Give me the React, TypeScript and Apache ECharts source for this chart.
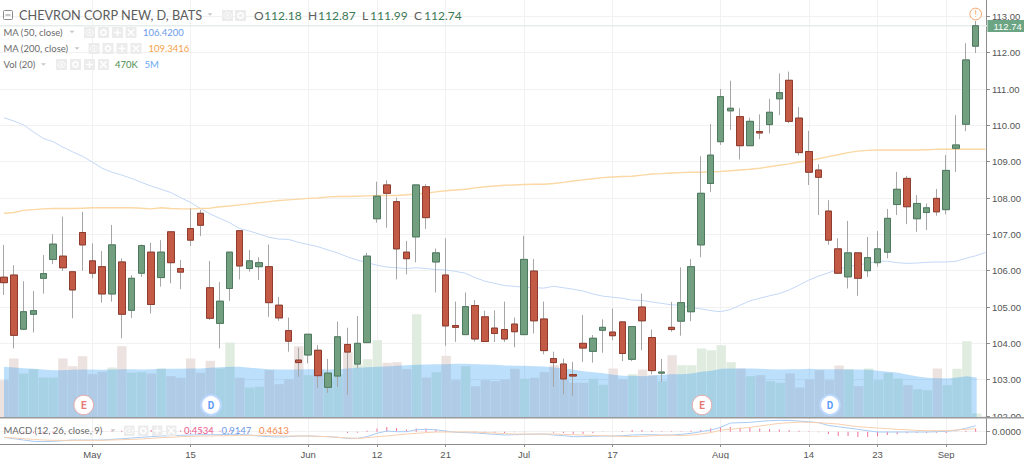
import React, { useEffect, useRef } from "react";
import * as echarts from "echarts";

const opens = [105.82,105.88,104.39,104.80,105.79,106.31,106.40,105.97,107.05,106.27,106.11,105.36,106.24,104.91,105.93,106.51,105.81,107.07,106.06,107.16,107.58,105.53,104.55,105.51,107.10,106.06,106.11,106.11,105.05,104.35,103.54,103.68,103.81,102.79,103.10,103.97,103.43,104.02,107.43,108.36,107.90,106.51,106.93,108.31,106.24,105.88,104.49,104.24,105.04,104.73,104.42,104.38,104.53,104.24,105.99,104.67,103.58,103.43,103.14,104.00,103.78,104.36,104.31,104.59,103.56,105.00,104.16,103.18,104.44,104.61,104.87,106.71,108.40,109.55,110.40,110.24,109.44,109.83,110.02,110.73,111.24,110.20,109.28,108.77,107.64,106.60,105.83,106.49,106.00,106.22,106.51,107.82,108.54,107.43,107.60,107.99,107.68,109.37,110.03,112.18];
const closes = [105.67,104.22,104.87,104.90,105.92,106.73,106.08,105.47,106.71,105.93,105.36,106.71,104.80,105.79,106.69,105.07,106.51,106.22,105.96,106.84,107.25,104.69,105.16,106.51,106.13,106.27,106.22,105.12,104.70,104.06,103.47,104.25,103.11,103.18,104.18,103.76,104.00,106.40,108.05,108.13,106.60,106.33,108.36,107.46,106.49,104.48,104.44,105.01,104.12,104.05,104.27,104.12,104.32,106.31,104.62,103.80,103.47,103.02,103.10,103.87,104.14,104.44,104.21,103.72,104.46,104.62,103.25,103.21,104.38,105.12,106.11,108.13,109.18,110.79,110.47,109.44,110.11,109.79,110.36,110.90,110.11,109.25,108.71,108.57,106.84,105.93,106.49,105.79,106.36,106.60,107.44,108.24,107.76,107.85,107.73,107.62,108.76,109.46,111.80,112.74];
const highs = [106.71,106.15,105.71,105.44,106.43,107.00,107.49,105.97,107.62,106.75,106.54,107.26,106.34,105.88,106.72,106.77,106.84,107.07,106.29,107.71,107.67,106.27,105.69,106.51,107.10,106.57,106.37,106.72,105.28,104.71,103.88,104.25,103.95,103.57,104.60,104.43,104.75,106.49,108.45,108.49,108.01,106.82,108.36,108.38,106.61,106.89,105.15,105.40,105.19,104.90,104.91,105.15,104.71,106.96,106.32,105.15,103.77,103.58,103.49,104.78,104.23,104.66,104.96,104.59,104.48,105.37,104.38,103.57,105.14,106.09,106.32,109.15,110.04,111.00,111.23,110.47,110.21,110.30,110.73,111.43,111.48,110.50,109.85,108.93,107.94,106.89,107.37,106.49,106.93,107.09,107.70,108.72,108.61,108.08,107.85,108.25,109.18,110.28,112.26,112.87];
const lows = [105.33,103.86,104.36,104.30,105.37,106.18,105.99,104.69,106.00,105.79,105.12,105.15,104.14,104.70,105.83,104.82,105.56,105.65,105.49,106.68,106.95,104.64,103.86,105.17,105.76,105.97,105.74,104.73,104.62,103.77,103.08,103.45,102.78,102.64,102.80,102.58,103.31,104.02,107.32,107.18,105.76,105.90,106.23,107.15,105.40,103.93,104.04,104.24,104.04,104.05,104.04,104.04,103.89,104.24,104.27,103.70,102.80,102.60,102.56,103.49,103.47,103.74,104.09,103.51,103.51,103.81,103.15,102.94,104.32,104.21,104.61,106.37,108.17,109.46,109.87,109.06,109.44,109.62,109.78,110.28,110.06,109.17,108.36,107.53,106.71,105.93,105.51,105.31,105.83,106.11,106.34,107.53,107.28,107.07,107.12,107.51,107.55,108.72,109.84,111.99];

const ma50 = [110.21,110.12,110.01,109.82,109.64,109.55,109.40,109.27,109.15,108.99,108.82,108.71,108.63,108.54,108.43,108.33,108.24,108.15,108.01,107.88,107.71,107.56,107.44,107.32,107.16,107.09,107.01,106.92,106.87,106.86,106.78,106.72,106.66,106.57,106.49,106.38,106.29,106.22,106.15,106.10,106.08,106.06,106.08,106.06,106.03,106.02,105.98,105.93,105.81,105.71,105.65,105.59,105.57,105.54,105.53,105.52,105.57,105.53,105.49,105.44,105.36,105.30,105.27,105.24,105.19,105.18,105.14,105.10,105.06,105.05,104.98,104.95,104.90,104.87,104.93,105.05,105.17,105.24,105.31,105.37,105.47,105.60,105.74,105.85,105.94,106.04,106.11,106.16,106.20,106.26,106.26,106.22,106.20,106.21,106.23,106.24,106.24,106.26,106.34,106.41,106.50];
const ma200 = [107.58,107.60,107.66,107.68,107.70,107.71,107.71,107.71,107.72,107.73,107.73,107.73,107.73,107.73,107.72,107.70,107.73,107.71,107.70,107.70,107.71,107.72,107.76,107.78,107.81,107.84,107.87,107.90,107.93,107.95,107.97,107.99,108.00,108.03,108.04,108.04,108.05,108.06,108.07,108.07,108.07,108.09,108.11,108.13,108.17,108.20,108.22,108.24,108.28,108.31,108.33,108.35,108.36,108.37,108.38,108.38,108.40,108.43,108.47,108.50,108.53,108.56,108.58,108.59,108.60,108.63,108.66,108.67,108.69,108.70,108.71,108.71,108.72,108.73,108.75,108.77,108.79,108.82,108.86,108.90,108.94,108.99,109.03,109.08,109.14,109.19,109.25,109.29,109.31,109.32,109.32,109.32,109.32,109.32,109.33,109.34,109.34,109.34,109.34,109.34,109.34];

const volume = [3.73,5.9,4.4,4.83,4.0,4.0,5.9,5.13,6.13,4.33,4.57,5.0,7.13,4.47,4.53,4.4,4.9,4.13,3.97,5.9,4.47,5.67,4.9,7.5,3.97,3.0,3.07,4.73,3.33,3.83,7.13,4.23,4.73,3.73,4.33,6.57,5.3,5.83,7.73,5.47,5.53,4.83,10.33,4.0,4.53,6.17,3.73,5.13,3.13,3.73,3.63,3.8,4.87,3.87,3.97,4.53,5.23,3.8,3.47,3.47,3.87,3.27,4.9,3.83,4.33,4.8,4.23,3.63,6.23,5.23,5.23,6.9,6.73,7.23,5.53,4.9,4.13,4.23,3.63,3.47,4.4,3.0,3.8,4.73,3.73,5.2,4.83,3.13,4.9,3.73,4.47,3.9,3.23,2.83,2.73,4.9,3.23,4.87,7.63,0.4];
const volumeMa = [5.07,5.0,4.93,4.87,4.8,4.73,4.73,4.77,4.8,4.8,4.77,4.8,4.83,4.83,4.8,4.83,4.87,4.87,4.87,4.9,4.9,4.97,5.03,5.07,5.07,4.97,4.9,4.83,4.8,4.8,4.8,4.83,4.83,4.8,4.83,4.9,4.97,5.03,5.07,5.1,5.17,5.23,5.27,5.3,5.33,5.33,5.37,5.37,5.33,5.3,5.27,5.2,5.17,5.17,5.13,5.1,5.0,4.9,4.77,4.63,4.53,4.43,4.27,4.17,4.17,4.13,4.2,4.27,4.33,4.33,4.4,4.57,4.67,4.87,4.9,4.9,4.9,4.87,4.83,4.8,4.83,4.83,4.87,4.83,4.83,4.83,4.8,4.8,4.77,4.67,4.57,4.47,4.27,4.1,3.97,3.93,3.9,4.0,4.13,4.0];

const macd = [-0.86,-1.07,-1.27,-1.47,-1.52,-1.47,-1.37,-1.27,-1.27,-1.27,-1.27,-1.17,-1.07,-0.96,-0.86,-0.76,-0.66,-0.61,-0.56,-0.51,-0.46,-0.46,-0.46,-0.41,-0.41,-0.51,-0.66,-0.76,-0.81,-0.76,-0.66,-0.66,-0.71,-0.76,-0.86,-1.02,-1.02,-0.76,-0.25,0.10,0,0,0.30,0.36,0.30,0.10,-0.10,-0.15,-0.20,-0.30,-0.41,-0.51,-0.46,-0.41,-0.36,-0.36,-0.51,-0.61,-0.76,-0.76,-0.71,-0.66,-0.66,-0.61,-0.51,-0.46,-0.46,-0.51,-0.51,-0.41,-0.25,0,0.25,0.66,1.32,1.37,1.42,1.57,1.68,1.73,1.73,1.62,1.52,1.37,0.96,0.76,0.56,0.36,0.15,-0.05,-0.05,-0.05,-0.05,-0.05,-0.05,0,0.05,0.20,0.51,0.91];
const signal = [-0.86,-0.96,-1.07,-1.17,-1.27,-1.32,-1.32,-1.32,-1.32,-1.32,-1.32,-1.27,-1.22,-1.17,-1.12,-1.02,-0.91,-0.86,-0.76,-0.71,-0.66,-0.66,-0.61,-0.61,-0.56,-0.56,-0.56,-0.61,-0.61,-0.66,-0.66,-0.66,-0.71,-0.76,-0.86,-0.96,-1.02,-0.91,-0.76,-0.66,-0.51,-0.36,-0.25,-0.15,-0.05,-0.05,-0.05,-0.05,-0.05,-0.15,-0.20,-0.30,-0.36,-0.36,-0.36,-0.36,-0.36,-0.41,-0.46,-0.51,-0.56,-0.61,-0.66,-0.71,-0.76,-0.71,-0.61,-0.56,-0.51,-0.61,-0.51,-0.36,-0.15,0.25,0.36,0.51,0.66,0.86,1.07,1.27,1.37,1.47,1.42,1.37,1.27,1.17,0.96,0.76,0.66,0.56,0.46,0.36,0.30,0.20,0.15,0.15,0.15,0.25,0.36,0.46];
const histogram = [0,-0.1,-0.2,-0.25,-0.25,-0.2,-0.1,0.05,0.05,0.05,0.05,0.1,0.15,0.2,0.25,0.25,0.25,0.25,0.2,0.2,0.2,0.2,0.15,0.2,0.15,0.05,-0.1,-0.15,-0.2,-0.1,0,0,0,0,0,-0.2,-0.15,0.15,0.5,0.7,0.55,0.35,0.5,0.5,0.35,0.15,-0.05,-0.1,-0.15,-0.2,-0.2,-0.2,-0.1,-0.1,0,0,-0.15,-0.2,-0.3,-0.3,-0.2,-0.05,0,0.1,0.25,0.25,0.15,0.05,0.05,0.05,0.15,0.25,0.5,0.7,0.7,0.6,0.6,0.5,0.4,0.35,0.25,0.15,0.05,-0.1,-0.35,-0.65,-0.65,-0.8,-0.8,-0.7,-0.5,-0.4,-0.25,-0.2,-0.2,-0.15,-0.2,-0.05,0.15,0.45];

const tickPositions = [9, 19, 31, 38, 45, 53, 62, 73, 82, 89, 96];
const tickLabels = ["May", "15", "Jun", "12", "21", "Jul", "17", "Aug", "14", "23", "Sep"];
const priceTicks = [102, 103, 104, 105, 106, 107, 108, 109, 110, 111, 112, 113];

const TICK_FONT = "Liberation Sans";
const LEGEND_FONT = "Lato";

const pair = (arr: number[]) => arr.map((v, i) => [i, v]);

function txt(text: string, x: number, y: number, fill: string, size: number, extra: any = {}) {
  return {
    type: "text",
    z: 50,
    style: { text, x, y, fill, font: `${extra.weight || "normal"} ${size}px ${extra.family || LEGEND_FONT}`, verticalAlign: "middle", align: extra.align || "left" },
  };
}

function icons(xs: number[], y: number, size: number, kinds: string) {
  const out: any[] = [];
  xs.forEach((x, i) => {
    out.push({ type: "rect", z: 50, shape: { x, y, width: size, height: size }, style: { fill: "#ececec" } });
    const cx = x + size / 2;
    const cy = y + size / 2;
    const k = kinds[i];
    if (k === "e") {
      out.push({ type: "ellipse", z: 51, shape: { cx, cy, rx: 3.6, ry: 2.8 }, style: { fill: "none", stroke: "#fff", lineWidth: 1 } });
      out.push({ type: "circle", z: 51, shape: { cx, cy, r: 1 }, style: { fill: "#fff" } });
    } else if (k === "g") {
      out.push({ type: "circle", z: 51, shape: { cx, cy, r: 2.6 }, style: { fill: "none", stroke: "#fff", lineWidth: 1.6 } });
    } else if (k === "p") {
      out.push({ type: "line", z: 51, shape: { x1: cx - 3.5, y1: cy, x2: cx + 3.5, y2: cy }, style: { stroke: "#fff", lineWidth: 1.5 } });
      out.push({ type: "line", z: 51, shape: { x1: cx, y1: cy - 3.5, x2: cx, y2: cy + 3.5 }, style: { stroke: "#fff", lineWidth: 1.5 } });
    } else {
      out.push({ type: "line", z: 51, shape: { x1: cx - 3.2, y1: cy - 3.2, x2: cx + 3.2, y2: cy + 3.2 }, style: { stroke: "#fff", lineWidth: 1.4 } });
      out.push({ type: "line", z: 51, shape: { x1: cx + 3.2, y1: cy - 3.2, x2: cx - 3.2, y2: cy + 3.2 }, style: { stroke: "#fff", lineWidth: 1.4 } });
    }
  });
  return out;
}

function caret(x: number, y: number) {
  return { type: "polygon", z: 50, shape: { points: [[x - 2.5, y - 1.3], [x + 2.5, y - 1.3], [x, y + 1.3]] }, style: { fill: "#c8c8c8" } };
}

function marker(x: number, letter: string, color: string, ring: string, lw: number) {
  return [
    { type: "circle", z: 40, shape: { cx: x, cy: 405, r: 9.8 }, style: { fill: "#fff", stroke: ring, lineWidth: lw } },
    txt(letter, x, 405.5, color, 10, { align: "center", weight: "bold", family: "Roboto" }),
  ];
}

const legendText = "#6a6a6a";

const graphics: any[] = [
  { type: "rect", z: 6, shape: { x: 0, y: 25, width: 987, height: 1.4 }, style: { fill: "#e6edea" } },
  { type: "rect", z: 30, shape: { x: 987.5, y: 20, width: 36.5, height: 12 }, style: { fill: "#6ba583" } },
  txt("112.74", 993.5, 26, "#ffffff", 9.5, { family: TICK_FONT }),

  { type: "rect", z: 3, shape: { x: 987.5, y: 418, width: 36.5, height: 26 }, style: { fill: "#fff" } },
  { type: "rect", z: 20, shape: { x: 0, y: 417, width: 1024, height: 1.6 }, style: { fill: "#9a9a9a" } },

  { type: "rect", z: 50, shape: { x: 3.5, y: 10.5, width: 9, height: 9, r: 1 }, style: { fill: "none", stroke: "#8a8a8a", lineWidth: 1 } },
  { type: "line", z: 50, shape: { x1: 5.5, y1: 15, x2: 10.5, y2: 15 }, style: { stroke: "#8a8a8a", lineWidth: 1 } },
  txt("CHEVRON CORP NEW, D, BATS", 19, 15, "#5d5d5d", 12.7),
  caret(210, 14.5),
  ...icons([222, 235], 10, 11, "eg"),
  txt("O", 254, 15.5, "#5d5d5d", 12),
  txt("112.18", 264, 15.5, "#3c7a55", 12),
  txt("H", 308, 15.5, "#5d5d5d", 12),
  txt("112.87", 318, 15.5, "#3c7a55", 12),
  txt("L", 362, 15.5, "#5d5d5d", 12),
  txt("111.99", 370, 15.5, "#3c7a55", 12),
  txt("C", 414, 15.5, "#5d5d5d", 12),
  txt("112.74", 424, 15.5, "#3c7a55", 12),

  txt("MA (50, close)", 3.5, 32, legendText, 9.5),
  caret(72, 32),
  ...icons([84, 98, 112, 125.5], 27, 11, "egpx"),
  txt("106.4200", 143, 32, "#6b9bea", 9.5),

  txt("MA (200, close)", 3.5, 48.5, legendText, 9.5),
  caret(77, 48.5),
  ...icons([88.5, 102.5, 116.5, 130.5], 43, 11, "egpx"),
  txt("109.3416", 148.5, 48.5, "#f5a24b", 9.5),

  txt("Vol (20)", 3.5, 64.5, legendText, 9.5),
  caret(43.5, 64.5),
  ...icons([56, 70, 84, 98], 59, 11, "egpx"),
  txt("470K", 115, 64.5, "#4c8c4c", 9.5),
  txt("5M", 144.5, 64.5, "#6aaaf2", 9.5),

  txt("MACD (12, 26, close, 9)", 3.5, 430.5, legendText, 9.5),
  caret(113, 430.5),
  ...icons([124, 138, 152, 166], 425.5, 10.5, "egpx"),
  txt("0.4534", 184, 430.5, "#ec5a8c", 9.5),
  txt("0.9147", 221.5, 430.5, "#6b9bea", 9.5),
  txt("0.4613", 259, 430.5, "#f58a4b", 9.5),

  ...marker(83.7, "E", "#e57878", "#e8a8a8", 1),
  ...marker(211, "D", "#5b9cf6", "#bcd8ff", 2),
  ...marker(702, "E", "#e57878", "#e8a8a8", 1),
  ...marker(830, "D", "#5b9cf6", "#bcd8ff", 2),
  { type: "circle", z: 40, shape: { cx: 975.7, cy: 14, r: 5.8 }, style: { fill: "#fff", stroke: "#f6a56a", lineWidth: 1 } },
  txt("!", 975.7, 14.3, "#f6a56a", 9, { align: "center", family: "Roboto" }),
];

export default function App() {
  const ref = useRef<HTMLDivElement>(null);
  useEffect(() => {
    const chart = echarts.init(ref.current!, undefined, { renderer: "svg" });
    const xBase = { type: "value", min: -0.407, max: 100.05 };
    const candle = opens.map((o, i) => [i, o, closes[i], lows[i], highs[i]]);
    const bodies = opens.map((o, i) => [i, o, closes[i], Math.min(o, closes[i]), Math.max(o, closes[i])]);
    const volBars = volume.map((v, i) => ({
      value: [i, v],
      itemStyle: { color: closes[i] >= opens[i] ? "#e1ece0" : "#ece2e0" },
    }));
    chart.setOption({
      animation: false,
      backgroundColor: "#ffffff",
      graphic: { elements: graphics },
      grid: [
        { left: 0, top: 0, width: 987, height: 418 },
        { left: 0, top: 277.5, width: 987, height: 140 },
        { left: 0, top: 418, width: 987, height: 26 },
      ],
      xAxis: [
        {
          ...xBase, gridIndex: 0, z: 1,
          axisLine: { show: false, onZero: false }, axisTick: { show: false, customValues: tickPositions }, axisLabel: { show: false },
          splitLine: { show: true, lineStyle: { color: "#f1f1f1", width: 1 } },
        },
        { ...xBase, gridIndex: 1, show: false, splitLine: { show: false } },
        {
          ...xBase, gridIndex: 2, z: 1,
          axisLine: { show: true, onZero: false, lineStyle: { color: "#8c8c8c", width: 1 } },
          axisTick: { show: true, length: 3, customValues: tickPositions, lineStyle: { color: "#8c8c8c" } },
          axisLabel: {
            show: true, customValues: tickPositions, margin: 5, fontSize: 9.5, color: "#555", fontFamily: TICK_FONT,
            hideOverlap: false,
            formatter: (v: number) => tickLabels[tickPositions.indexOf(Math.round(v))] ?? "",
          },
          splitLine: { show: true, lineStyle: { color: "#f1f1f1", width: 1 } },
        },
      ],
      yAxis: [
        {
          type: "value", gridIndex: 0, position: "right", min: 101.945, max: 113.45, z: 1,
          axisLine: { show: true, onZero: false, lineStyle: { color: "#8c8c8c", width: 1 } },
          axisTick: { show: true, length: 4, customValues: priceTicks, lineStyle: { color: "#8c8c8c" } },
          axisLabel: {
            customValues: priceTicks, margin: 6, fontSize: 9.5, color: "#555", fontFamily: TICK_FONT,
            formatter: (v: number) => v.toFixed(2),
          },
          splitLine: { show: true, lineStyle: { color: "#f1f1f1", width: 1 } },
        },
        { type: "value", gridIndex: 1, min: 0, max: 14, show: false, splitLine: { show: false } },
        {
          type: "value", gridIndex: 2, position: "right", min: -1.88, max: 2.09, z: 4,
          axisLine: { show: true, onZero: false, lineStyle: { color: "#8c8c8c", width: 1 } },
          axisTick: { show: true, length: 4, customValues: [0], lineStyle: { color: "#8c8c8c" } },
          axisLabel: {
            customValues: [0], margin: 6, fontSize: 9.5, color: "#555", fontFamily: TICK_FONT,
            formatter: (v: number) => v.toFixed(4),
          },
          splitLine: { show: true, lineStyle: { color: "#f1f1f1", width: 1 } },
        },
      ],
      series: [
        {
          type: "bar", name: "Vol", xAxisIndex: 1, yAxisIndex: 1, barWidth: 9.4, data: volBars, z: 2,
        },
        {
          type: "line", name: "Vol MA", xAxisIndex: 1, yAxisIndex: 1, showSymbol: false, data: pair(volumeMa), z: 3,
          lineStyle: { width: 0 }, areaStyle: { color: "rgba(33,150,243,0.3)", opacity: 1 },
        },
        {
          type: "line", name: "MA 50", showSymbol: false, data: pair(ma50), z: 5,
          lineStyle: { color: "#c4d8f7", width: 1 },
        },
        {
          type: "line", name: "MA 200", showSymbol: false, data: pair(ma200), z: 5,
          lineStyle: { color: "#fbd8a4", width: 1.4 },
        },
        {
          type: "candlestick", name: "Wicks", barWidth: 7, data: candle, z: 7,
          itemStyle: { color: "#729f80", color0: "#c35a45", borderColor: "#a6a6a6", borderColor0: "#a6a6a6", borderWidth: 1 },
        },
        {
          type: "candlestick", name: "CVX", barWidth: 7, data: bodies, z: 8,
          itemStyle: { color: "#729f80", color0: "#c35a45", borderColor: "#4d7a5f", borderColor0: "#8f3b2e", borderWidth: 1 },
        },
        {
          type: "bar", name: "Histogram", xAxisIndex: 2, yAxisIndex: 2, barWidth: 1, data: pair(histogram), z: 6,
          itemStyle: { color: "#f0709a" },
        },
        {
          type: "line", name: "MACD", xAxisIndex: 2, yAxisIndex: 2, showSymbol: false, data: pair(macd), z: 7,
          lineStyle: { color: "#a8ccf6", width: 1 },
        },
        {
          type: "line", name: "Signal", xAxisIndex: 2, yAxisIndex: 2, showSymbol: false, data: pair(signal), z: 7,
          lineStyle: { color: "#f8cfae", width: 1 },
        },
      ],
    });
    return () => chart.dispose();
  }, []);
  return <div ref={ref} style={{ position: "absolute", left: 0, top: 0, width: 1024, height: 459 }} />;
}
